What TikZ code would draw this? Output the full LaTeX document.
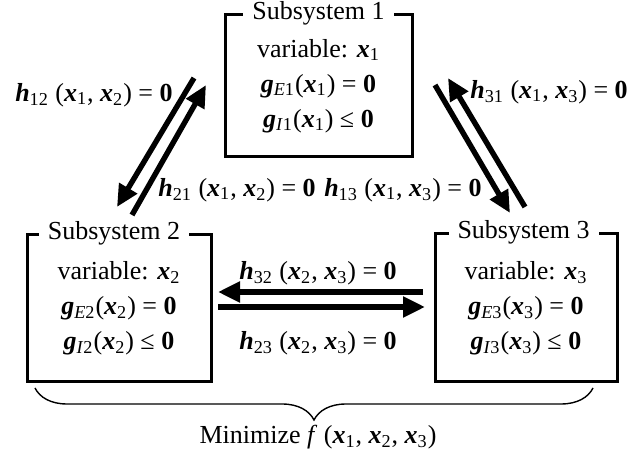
\documentclass[tikz,border=0pt]{standalone}
\usepackage{fontspec}
\setmainfont{Liberation Serif}
\usetikzlibrary{arrows.meta,decorations.pathreplacing}

\newcommand{\bv}[1]{\textbf{\textit{#1}}}
\newcommand{\xv}[1]{\bv{x}\textsubscript{#1}}
\newcommand{\zero}{\textbf{0}}

\begin{document}
\begin{tikzpicture}[x=0.5pt, y=-0.5pt,
    sysbox/.style={draw, line width=1.5pt, align=center, inner sep=0pt,
        font=\fontsize{13}{17.5}\selectfont},
    systitle/.style={fill=white, inner xsep=4.5pt, inner ysep=1pt,
        font=\fontsize{13}{15}\selectfont},
    lbl/.style={inner sep=0pt, font=\fontsize{13}{15}\selectfont},
    fatarrow/.style={line width=2.7pt, -{Triangle[length=11pt, width=10pt]}}]

    \useasboundingbox (0,0) rectangle (637,459);

    % Subsistemas
        \node[sysbox, minimum width=93.5pt, minimum height=71pt] (s1) at (318.5,86)
            {variable: \xv{1}\\ \bv{g}\textsubscript{\textit{E}1}(\xv{1}) = \zero\\
             \bv{g}\textsubscript{\textit{I}1}(\xv{1}) ≤ \zero};
        \node[systitle] (t1) at (s1.north) {Subsystem 1};

        \node[sysbox, minimum width=92pt, minimum height=73.5pt] (s2) at (119,308.5)
            {variable: \xv{2}\\ \bv{g}\textsubscript{\textit{E}2}(\xv{2}) = \zero\\
             \bv{g}\textsubscript{\textit{I}2}(\xv{2}) ≤ \zero};
        \node[systitle] (t2) at ([xshift=-2.5pt]s2.north) {Subsystem 2};

        \node[sysbox, minimum width=91pt, minimum height=74pt] (s3) at (526,308)
            {variable: \xv{3}\\ \bv{g}\textsubscript{\textit{E}3}(\xv{3}) = \zero\\
             \bv{g}\textsubscript{\textit{I}3}(\xv{3}) ≤ \zero};
        \node[systitle] (t3) at ([xshift=-1.2pt]s3.north) {Subsystem 3};

    % Extremos de las flechas
        \coordinate (a12s) at (194,78);   \coordinate (a12e) at (117,207);
        \coordinate (a21s) at (132,215);  \coordinate (a21e) at (206,85);
        \coordinate (a31s) at (525,207);  \coordinate (a31e) at (448,78);
        \coordinate (a13s) at (435,85);   \coordinate (a13e) at (510,213);
        \coordinate (a32s) at (423,292);  \coordinate (a32e) at (218,292);
        \coordinate (a23s) at (218,307);  \coordinate (a23e) at (425,307);

    % Flechas
        \draw[fatarrow] (a12s) -- (a12e);
        \draw[fatarrow] (a21s) -- (a21e);
        \draw[fatarrow] (a31s) -- (a31e);
        \draw[fatarrow] (a13s) -- (a13e);
        \draw[fatarrow] (a32s) -- (a32e);
        \draw[fatarrow] (a23s) -- (a23e);

    % Etiquetas
        \node[lbl, anchor=east] (h12) at (173,95) {\bv{h}\textsubscript{12} (\xv{1}, \xv{2}) = \zero};
        \node[lbl, anchor=west] (h21) at (158,190) {\bv{h}\textsubscript{21} (\xv{1}, \xv{2}) = \zero};
        \node[lbl, anchor=east] (h13) at (482,190) {\bv{h}\textsubscript{13} (\xv{1}, \xv{3}) = \zero};
        \node[lbl, anchor=west] (h31) at (470,92) {\bv{h}\textsubscript{31} (\xv{1}, \xv{3}) = \zero};
        \node[lbl] (h32) at (318,273) {\bv{h}\textsubscript{32} (\xv{2}, \xv{3}) = \zero};
        \node[lbl] (h23) at (318,343) {\bv{h}\textsubscript{23} (\xv{2}, \xv{3}) = \zero};

    % Llave y objetivo
        \coordinate (bl) at (35,388);
        \coordinate (br) at (593,388);
        \draw[line width=0.7pt, decorate, decoration={brace, mirror, amplitude=16pt}] (bl) -- (br);
        \node[lbl] (obj) at (318,437) {Minimize \textit{f} (\xv{1}, \xv{2}, \xv{3})};

\end{tikzpicture}
\end{document}
